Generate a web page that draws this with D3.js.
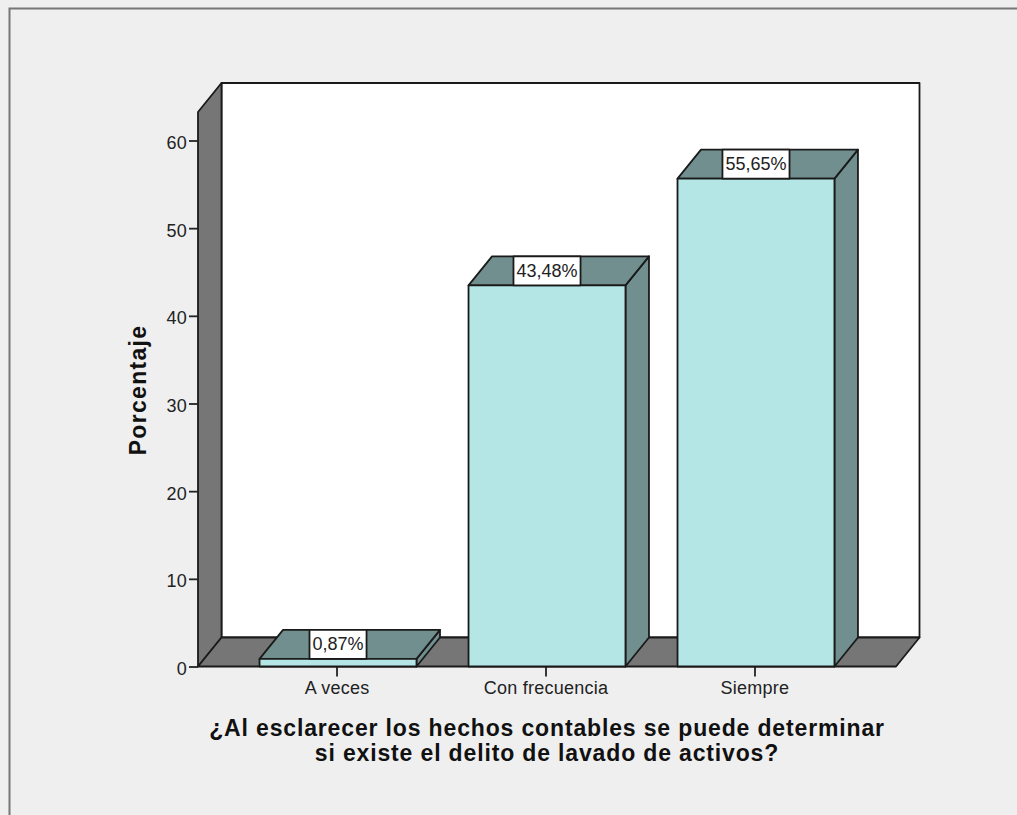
<!DOCTYPE html>
<html>
  <head>
    <meta charset="UTF-8">
    <style>
      html, body { margin: 0; padding: 0; background: #efefef; overflow: hidden; }
      svg { display: block; }
      .tick text { font-family: "Liberation Sans", sans-serif; font-size: 18px; letter-spacing: 0.25px; fill: #222; }
      .tick line { stroke: #222; stroke-width: 1.8; }
      .outline { stroke: #1a1a1a; stroke-width: 1.8; stroke-linejoin: round; }
      .axis-title { font-family: "Liberation Sans", sans-serif; font-weight: bold; font-size: 23px; fill: #111; letter-spacing: 0.85px; text-anchor: middle; }
      .value-label { font-family: "Liberation Sans", sans-serif; font-size: 18px; fill: #222; text-anchor: middle; }
    </style>
  </head>

  <body>
    <svg id="chart" width="1017" height="815"></svg>

    <script src="https://d3js.org/d3.v7.min.js"></script>
    <script>
      var categories = ["A veces", "Con frecuencia", "Siempre"];
      var percentages = [0.87, 43.48, 55.65];
      var valueLabels = ["0,87%", "43,48%", "55,65%"];
      var yTicks = [0, 10, 20, 30, 40, 50, 60];
      var yTitle = "Porcentaje";
      var xTitleLines = [
        "¿Al esclarecer los hechos contables se puede determinar",
        "si existe el delito de lavado de activos?"
      ];

      var svg = d3.select("#chart");

      // oblique offset of the back of the box
      var depthX = 23.5, depthY = -29;

      var x = d3.scaleBand()
          .domain(categories)
          .range([198, 896])
          .paddingInner(0.249)
          .paddingOuter(0.2945);

      var y = d3.scaleLinear()
          .domain([0, 63.25])
          .range([666.5, 112]);

      var poly = d3.line();

      function addFace(points, fill) {
        return svg.append("path")
            .attr("class", "outline")
            .attr("d", poly(points) + "Z")
            .attr("fill", fill);
      }

      // page frame, open at the right and bottom
      svg.append("path")
          .attr("d", "M9.5,815V8.5H1017")
          .attr("fill", "none")
          .attr("stroke", "#777")
          .attr("stroke-width", 2);

      var left = x.range()[0], right = x.range()[1];
      var floorY = y(0), topY = y.range()[1];

      // back wall, side wall and floor
      addFace([[left + depthX, topY + depthY], [right + depthX, topY + depthY],
               [right + depthX, floorY + depthY], [left + depthX, floorY + depthY]], "#fff");
      addFace([[left, topY], [left + depthX, topY + depthY],
               [left + depthX, floorY + depthY], [left, floorY]], "#767676");
      addFace([[left, floorY], [left + depthX, floorY + depthY],
               [right + depthX, floorY + depthY], [right, floorY]], "#767676");

      var yAxis = d3.axisLeft(y).tickValues(yTicks).tickSize(9).tickPadding(2);
      svg.append("g")
          .attr("transform", "translate(" + left + ",0)")
          .call(yAxis)
          .call(function(g) {
            g.select(".domain").remove();
            g.selectAll(".tick text").attr("dy", "0.44em");
          });

      var xAxis = d3.axisBottom(x).tickSize(10).tickPadding(5);
      svg.append("g")
          .attr("transform", "translate(-1," + floorY + ")")
          .call(xAxis)
          .call(function(g) { g.select(".domain").remove(); });

      // bars: side and top faces, front face, then the label box on the top face
      categories.forEach(function(cat, i) {
        var x0 = x(cat), x1 = x0 + x.bandwidth();
        var yTop = y(percentages[i]);
        var mid = x0 + x.bandwidth() / 2;

        addFace([[x1, yTop], [x1 + depthX, yTop + depthY], [x1 + depthX, floorY + depthY], [x1, floorY]], "#718f8f");
        addFace([[x0, yTop], [x0 + depthX, yTop + depthY], [x1 + depthX, yTop + depthY], [x1, yTop]], "#718f8f");
        addFace([[x0, yTop], [x1, yTop], [x1, floorY], [x0, floorY]], "#b5e6e6");

        var box = svg.append("rect")
            .attr("class", "outline")
            .attr("y", yTop + depthY)
            .attr("height", -depthY)
            .attr("fill", "#fff");
        var text = svg.append("text")
            .attr("class", "value-label")
            .attr("x", mid)
            .attr("y", yTop + depthY / 2 + 6)
            .text(valueLabels[i]);
        var w = text.node().getComputedTextLength() + 6;
        box.attr("x", mid - w / 2).attr("width", w);
      });

      svg.append("text")
          .attr("class", "axis-title")
          .attr("transform", "translate(146,390) rotate(-90)")
          .style("letter-spacing", "1.3px")
          .text(yTitle);

      svg.selectAll(".x-title")
          .data(xTitleLines)
          .enter().append("text")
          .attr("class", "axis-title x-title")
          .attr("x", 547)
          .attr("y", function(d, i) { return 736 + i * 25; })
          .text(function(d) { return d; });
    </script>
  </body>
</html>
